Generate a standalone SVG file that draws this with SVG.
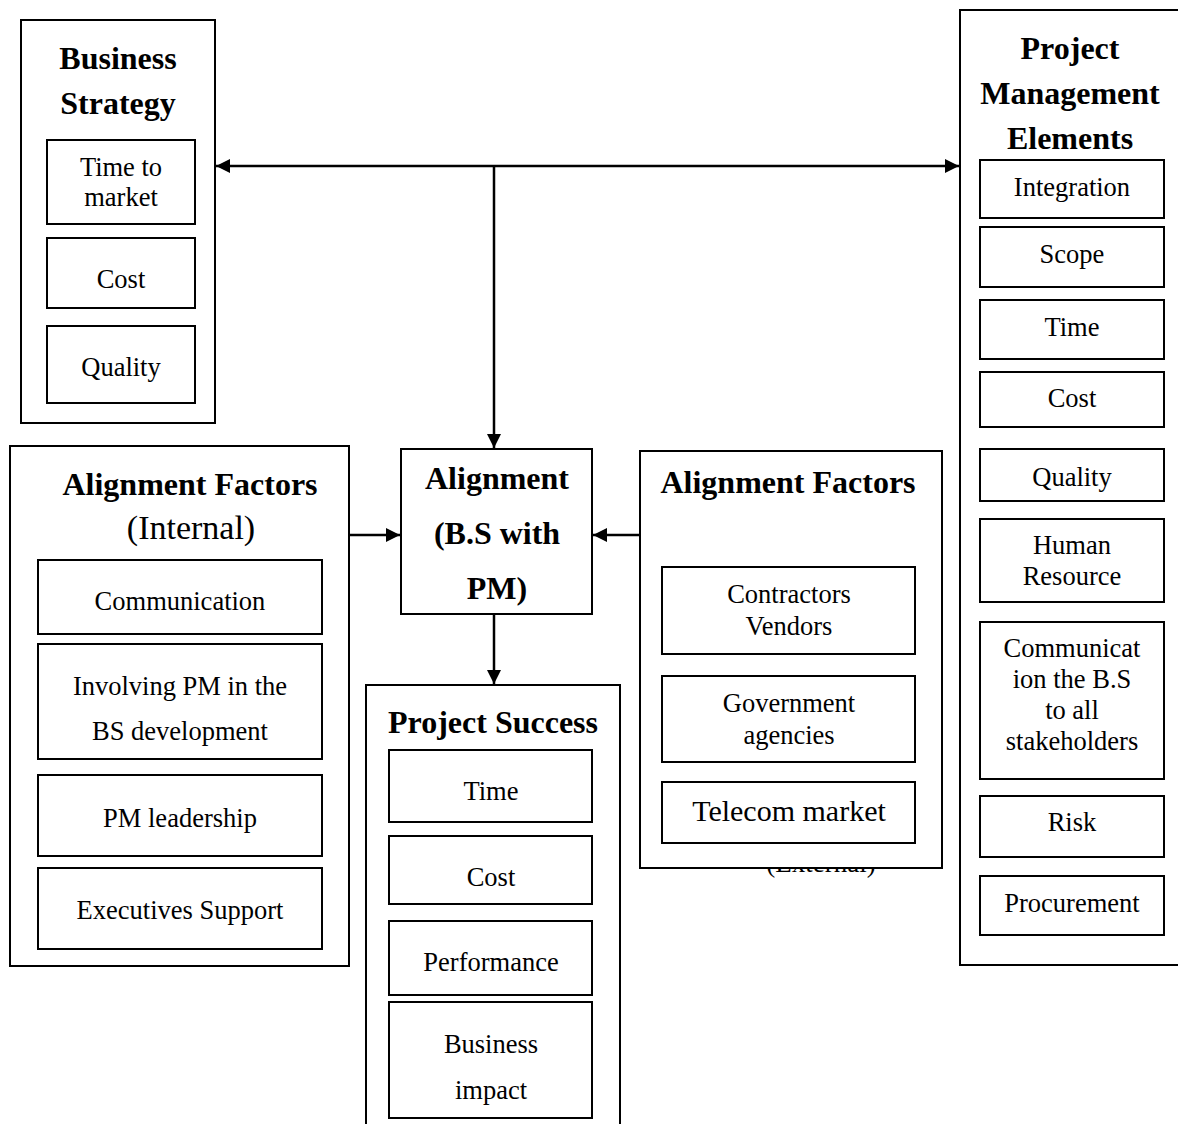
<svg xmlns="http://www.w3.org/2000/svg" width="1178" height="1124" viewBox="0 0 1178 1124">
<defs>
<marker id="ah" viewBox="0 0 10 10" refX="10" refY="5" markerWidth="14" markerHeight="14" markerUnits="userSpaceOnUse" orient="auto-start-reverse">
<path d="M0,0 L10,5 L0,10 z" fill="#000"/>
</marker>
<style>
rect{fill:#fff;stroke:#000;stroke-width:2}
text{font-family:"Liberation Serif","Times New Roman",serif;fill:#000;text-anchor:middle}
.t{font-size:32px;font-weight:bold}
.i{font-size:26.5px}
.b{font-size:30px}
.c{stroke:#000;stroke-width:2.5;fill:none}
</style>
</defs>
<rect width="1178" height="1124" style="stroke:none"/>
<g id="bs">
<rect x="21" y="20" width="194" height="403"/>
<text class="t" x="118" y="69">Business</text>
<text class="t" x="118" y="114">Strategy</text>
<rect x="47" y="140" width="148" height="84"/>
<text class="i" x="121" y="176">Time to</text>
<text class="i" x="121" y="206">market</text>
<rect x="47" y="238" width="148" height="70"/>
<text class="i" x="121" y="288">Cost</text>
<rect x="47" y="326" width="148" height="77"/>
<text class="i" x="121" y="376">Quality</text>
</g>
<g id="pme">
<rect x="960" y="10" width="230" height="955"/>
<text class="t" x="1070" y="59">Project</text>
<text class="t" x="1070" y="104">Management</text>
<text class="t" x="1070" y="149">Elements</text>
<rect x="980" y="160" width="184" height="58"/>
<text class="i" x="1072" y="196">Integration</text>
<rect x="980" y="227" width="184" height="60"/>
<text class="i" x="1072" y="263">Scope</text>
<rect x="980" y="300" width="184" height="59"/>
<text class="i" x="1072" y="336">Time</text>
<rect x="980" y="372" width="184" height="55"/>
<text class="i" x="1072" y="407">Cost</text>
<rect x="980" y="449" width="184" height="52"/>
<text class="i" x="1072" y="486">Quality</text>
<rect x="980" y="519" width="184" height="83"/>
<text class="i" x="1072" y="554">Human</text>
<text class="i" x="1072" y="585">Resource</text>
<rect x="980" y="622" width="184" height="157"/>
<text class="i" x="1072" y="657">Communicat</text>
<text class="i" x="1072" y="688">ion the B.S</text>
<text class="i" x="1072" y="719">to all</text>
<text class="i" x="1072" y="750">stakeholders</text>
<rect x="980" y="796" width="184" height="61"/>
<text class="i" x="1072" y="831">Risk</text>
<rect x="980" y="876" width="184" height="59"/>
<text class="i" x="1072" y="912">Procurement</text>
</g>
<g id="align">
<rect x="401" y="449" width="191" height="165"/>
<text class="t" x="497" y="489">Alignment</text>
<text class="t" x="497" y="544">(B.S with</text>
<text class="t" x="497" y="599">PM)</text>
</g>
<g id="afi">
<rect x="10" y="446" width="339" height="520"/>
<text class="t" x="190" y="495">Alignment Factors</text>
<text x="191" y="539" style="font-size:34px">(Internal)</text>
<rect x="38" y="560" width="284" height="74"/>
<text class="i" x="180" y="610">Communication</text>
<rect x="38" y="644" width="284" height="115"/>
<text class="i" x="180" y="695">Involving PM in the</text>
<text class="i" x="180" y="740">BS development</text>
<rect x="38" y="775" width="284" height="81"/>
<text class="i" x="180" y="827">PM leadership</text>
<rect x="38" y="868" width="284" height="81"/>
<text class="i" x="180" y="919">Executives Support</text>
</g>
<g id="afe">
<text x="821" y="872" style="font-size:27px">(External)</text>
<rect x="640" y="451" width="302" height="417"/>
<text class="t" x="788" y="493">Alignment Factors</text>
<rect x="662" y="567" width="253" height="87"/>
<text class="i" x="789" y="603">Contractors</text>
<text class="i" x="789" y="635">Vendors</text>
<rect x="662" y="676" width="253" height="86"/>
<text class="i" x="789" y="712">Government</text>
<text class="i" x="789" y="744">agencies</text>
<rect x="662" y="782" width="253" height="61"/>
<text class="b" x="789" y="821">Telecom market</text>
</g>
<g id="ps">
<rect x="366" y="685" width="254" height="450"/>
<text class="t" x="493" y="733">Project Success</text>
<rect x="389" y="750" width="203" height="72"/>
<text class="i" x="491" y="800">Time</text>
<rect x="389" y="836" width="203" height="68"/>
<text class="i" x="491" y="886">Cost</text>
<rect x="389" y="921" width="203" height="74"/>
<text class="i" x="491" y="971">Performance</text>
<rect x="389" y="1002" width="203" height="116"/>
<text class="i" x="491" y="1053">Business</text>
<text class="i" x="491" y="1099">impact</text>
</g>
<g id="connectors">
<path class="c" d="M216,166 H959" marker-start="url(#ah)" marker-end="url(#ah)"/>
<path class="c" d="M494,166 V448" marker-end="url(#ah)"/>
<path class="c" d="M349,535 H400" marker-end="url(#ah)"/>
<path class="c" d="M640,535 H593" marker-end="url(#ah)"/>
<path class="c" d="M494,614 V684" marker-end="url(#ah)"/>
</g>
</svg>
